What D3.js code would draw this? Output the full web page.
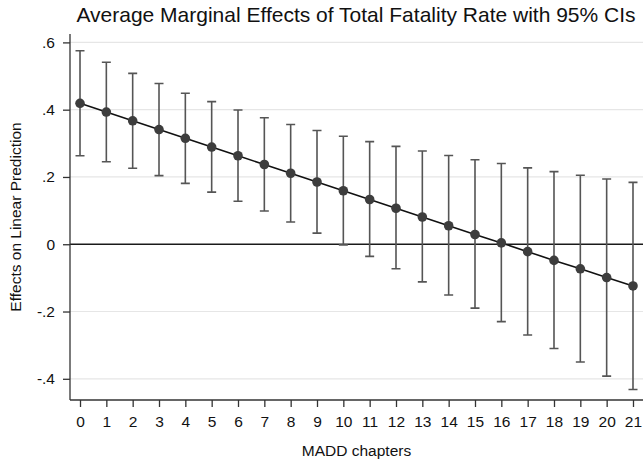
<!DOCTYPE html>
<html>
<head>
<meta charset="utf-8">
<script src="https://cdn.jsdelivr.net/npm/d3@7"></script>
<style>
  body { margin: 0; background: #fff; }
  svg { display: block; font-family: "Liberation Sans", Arial, sans-serif; }
</style>
</head>
<body>
<svg id="chart" width="643" height="462"></svg>
<script>
// MADD chapters on the x axis
const chapters = d3.range(0, 22);
// average marginal effect (point estimate) for each chapter count
const effects = [0.419, 0.393, 0.367, 0.341, 0.315, 0.289, 0.263, 0.237, 0.211, 0.185, 0.159,
                 0.133, 0.107, 0.081, 0.055, 0.029, 0.004, -0.022, -0.048, -0.073, -0.099, -0.124];
// 95% CI bounds
const upper = [0.575, 0.541, 0.508, 0.478, 0.449, 0.424, 0.399, 0.376, 0.356, 0.338, 0.321,
               0.305, 0.291, 0.277, 0.264, 0.251, 0.240, 0.227, 0.216, 0.205, 0.194, 0.184];
const lower = [0.263, 0.245, 0.226, 0.204, 0.181, 0.155, 0.128, 0.099, 0.066, 0.033, -0.002,
               -0.036, -0.073, -0.112, -0.151, -0.190, -0.230, -0.270, -0.310, -0.350, -0.392, -0.432];
const yTicks = [-0.4, -0.2, 0, 0.2, 0.4, 0.6];

const svg = d3.select("#chart");
const margin = { left: 70, right: 0, top: 34, bottom: 62 };
const W = 643, H = 462;

const x = d3.scaleLinear()
  .domain([-0.38, 21.38])
  .range([margin.left, W - margin.right]);
const y = d3.scaleLinear()
  .domain([-0.4, 0.6])
  .range([378.8, 42.4]);
const yBottom = H - margin.bottom;

// Stata style: ".6", "0", "-.2" with a plain hyphen
const fmt = v => v === 0 ? "0" : (v < 0 ? "-" : "") + Math.abs(v).toFixed(1).replace("0.", ".");

// gridlines
svg.append("g")
  .selectAll("line")
  .data(yTicks.filter(d => d !== 0))
  .join("line")
  .attr("x1", margin.left).attr("x2", W)
  .attr("y1", d => y(d)).attr("y2", d => y(d))
  .attr("stroke", "#e6e6e6").attr("stroke-width", 1.2);

// zero reference line
svg.append("line")
  .attr("x1", margin.left).attr("x2", W)
  .attr("y1", y(0)).attr("y2", y(0))
  .attr("stroke", "#1a1a1a").attr("stroke-width", 1.4);

// y axis
const yAxis = svg.append("g")
  .attr("transform", `translate(${margin.left},0)`)
  .call(d3.axisLeft(y).tickValues(yTicks).tickFormat(fmt).tickSize(7).tickPadding(8).tickSizeOuter(0));
yAxis.select(".domain").attr("d", `M0,${margin.top}V${yBottom}`);

// x axis
const xAxis = svg.append("g")
  .attr("transform", `translate(0,${yBottom})`)
  .call(d3.axisBottom(x).tickValues(chapters).tickFormat(d3.format("d")).tickSize(7).tickPadding(9).tickSizeOuter(0));
xAxis.select(".domain").attr("d", `M${margin.left},0H${W}`);

svg.selectAll(".tick text").attr("font-size", 15.5).attr("fill", "#111").attr("font-family", "Liberation Sans, Arial, sans-serif");
svg.selectAll(".domain, .tick line").attr("stroke", "#333").attr("stroke-width", 1.3);

// CI bars
const ci = svg.append("g").attr("stroke", "#555").attr("stroke-width", 1.6).attr("fill", "none");
ci.selectAll("path")
  .data(chapters)
  .join("path")
  .attr("d", i => {
    const cx = x(i), t = y(upper[i]), b = y(lower[i]);
    return `M${cx - 4.5},${t}H${cx + 4.5}M${cx},${t}V${b}M${cx - 4.5},${b}H${cx + 4.5}`;
  });

// connecting line
svg.append("path")
  .datum(chapters)
  .attr("fill", "none")
  .attr("stroke", "#111")
  .attr("stroke-width", 1.6)
  .attr("d", d3.line().x(i => x(i)).y(i => y(effects[i])));

// markers
svg.append("g")
  .selectAll("circle")
  .data(chapters)
  .join("circle")
  .attr("cx", i => x(i))
  .attr("cy", i => y(effects[i]))
  .attr("r", 4.8)
  .attr("fill", "#3d3d3d");

// titles
svg.append("text")
  .attr("x", 356).attr("y", 22)
  .attr("text-anchor", "middle")
  .attr("font-size", 21)
  .attr("fill", "#111")
  .text("Average Marginal Effects of Total Fatality Rate with 95% CIs");

svg.append("text")
  .attr("transform", `translate(21,${(margin.top + yBottom) / 2}) rotate(-90)`)
  .attr("text-anchor", "middle")
  .attr("font-size", 15.5)
  .attr("fill", "#111")
  .text("Effects on Linear Prediction");

svg.append("text")
  .attr("x", (margin.left + W) / 2).attr("y", 456)
  .attr("text-anchor", "middle")
  .attr("font-size", 15.5)
  .attr("fill", "#111")
  .text("MADD chapters");
</script>
</body>
</html>
